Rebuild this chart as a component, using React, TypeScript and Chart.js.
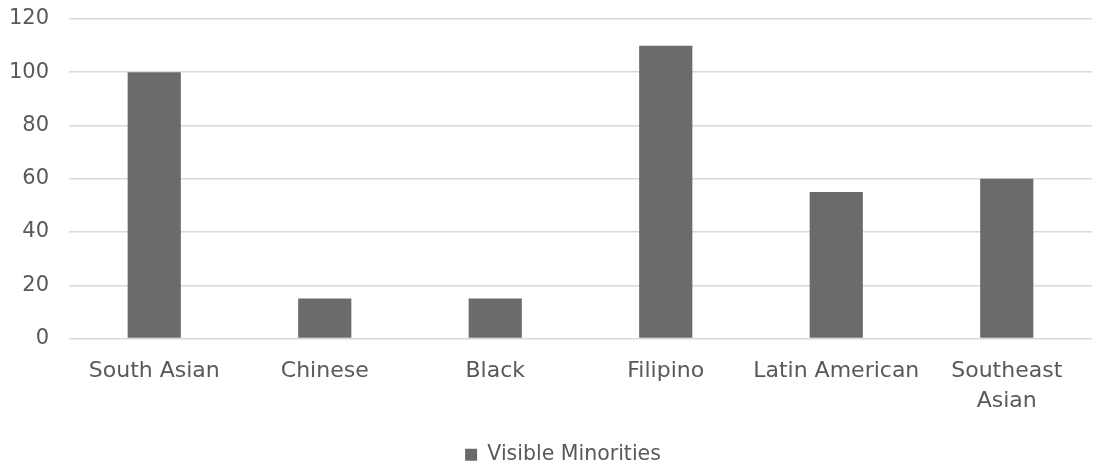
import React, { useEffect, useRef } from "react";
import { Chart, registerables } from "chart.js";

Chart.register(...registerables);

const categories: (string | string[])[] = [
  "South Asian",
  "Chinese",
  "Black",
  "Filipino",
  "Latin American",
  ["Southeast", "Asian"],
];
const seriesName = "Visible Minorities";
const seriesValues = [100, 15, 15, 110, 55, 60];
const yTicks = [0, 20, 40, 60, 80, 100, 120];

const FONT = "'DejaVu Sans', sans-serif";
const TEXT = "#595959";
const BAR = "#6b6b6b";
const GRID = "#d9d9d9";
const LEGEND_OFFSET_X = 17;

// Nudge the bottom legend a little to the right of the canvas centre.
const legendOffset = {
  id: "legendOffset",
  afterLayout(chart: any) {
    const lg = chart.legend;
    if (!lg) return;
    lg.left += LEGEND_OFFSET_X;
    lg.right += LEGEND_OFFSET_X;
  },
};

export default function App() {
  const canvasRef = useRef<HTMLCanvasElement | null>(null);

  useEffect(() => {
    if (!canvasRef.current) return;
    const chart = new Chart(canvasRef.current, {
      type: "bar",
      data: {
        labels: categories,
        datasets: [
          {
            label: seriesName,
            data: seriesValues,
            backgroundColor: BAR,
            borderWidth: 0,
            categoryPercentage: 1,
            barPercentage: 0.312,
          },
        ],
      },
      options: {
        responsive: false,
        animation: false,
        layout: { padding: { left: 0, right: 10, top: 19, bottom: -9 } },
        plugins: {
          tooltip: { enabled: false },
          legend: {
            position: "bottom",
            labels: {
              color: TEXT,
              font: { family: FONT, size: 20.5 },
              boxWidth: 12,
              boxHeight: 12,
              padding: 6,
            },
          },
        },
        scales: {
          x: {
            grid: { display: false },
            border: { display: false },
            ticks: {
              color: TEXT,
              font: { family: FONT, size: 22, lineHeight: 1.35 },
              padding: 10,
              maxRotation: 0,
              autoSkip: false,
            },
            afterFit: (scale: any) => {
              scale.height = 100;
            },
          },
          y: {
            min: 0,
            max: 120,
            afterBuildTicks: (scale: any) => {
              scale.ticks = yTicks.map((v) => ({ value: v }));
            },
            grid: { color: GRID, lineWidth: 1.5, drawTicks: false },
            border: { display: false },
            ticks: {
              color: TEXT,
              font: { family: FONT, size: 21 },
              padding: 20,
            },
            afterFit: (scale: any) => {
              scale.width = 69;
              scale.paddingTop = 0;
              scale.paddingBottom = 0;
            },
          },
        },
      },
      plugins: [legendOffset],
    });
    return () => chart.destroy();
  }, []);

  return (
    <div style={{ position: "absolute", left: 0, top: 0, width: 1102, height: 466, background: "#fff" }}>
      <canvas ref={canvasRef} width={1102} height={466} />
    </div>
  );
}
